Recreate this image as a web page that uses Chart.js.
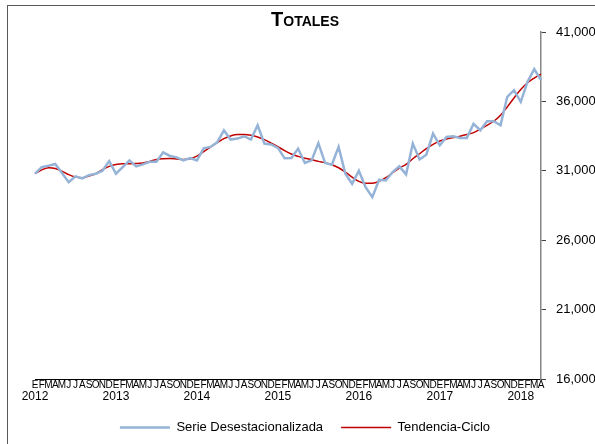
<!DOCTYPE html>
<html>
<head>
<meta charset="utf-8">
<script src="https://cdn.jsdelivr.net/npm/chart.js@4/dist/chart.umd.min.js"></script>
<style>
  body { margin: 0; background: #fff; }
  #wrap { position: relative; width: 595px; height: 444px; overflow: hidden; }
  #frame { position: absolute; left: 7px; top: 5px; width: 620px; height: 480px; border: 1px solid #595959; pointer-events: none; }
  canvas { position: absolute; left: 0; top: 0; }
</style>
</head>
<body>
<div id="wrap">
  <canvas id="chart" width="595" height="444"></canvas>
  <div id="frame"></div>
</div>
<script>
// Meses y años del eje horizontal
const monthLetters = ['E', 'F', 'M', 'A', 'M', 'J', 'J', 'A', 'S', 'O', 'N', 'D'];
const years = [2012, 2013, 2014, 2015, 2016, 2017, 2018];
const lastMonthCount = 4; // enero-abril 2018

// Serie desestacionalizada (ene 2012 - abr 2018)
const serieDesest = [
  30790, 31270, 31370, 31490, 30840, 30180, 30600, 30450, 30690, 30790, 31000, 31700,
  30790, 31270, 31750, 31320, 31460, 31650, 31650, 32330, 32070, 31970, 31750, 31920,
  31750, 32620, 32720, 33050, 33920, 33250, 33320, 33490, 33250, 34280, 32960, 32900,
  32650, 31900, 31920, 32600, 31560, 31750, 33000, 31560, 31440, 32720, 30790, 30070,
  31000, 29820, 29100, 30350, 30300, 30910, 31320, 30740, 32960, 31820, 32160, 33680,
  32840, 33440, 33490, 33370, 33370, 34380, 33920, 34570, 34570, 34280, 36330, 36810,
  35970, 37410, 38330, 37530
];

// Tendencia-ciclo
const tendencia = [
  30790, 31070, 31220, 31170, 30980, 30720, 30550, 30500, 30620, 30790, 31080, 31320,
  31460, 31510, 31510, 31520, 31560, 31680, 31820, 31870, 31880, 31850, 31820, 31870,
  32060, 32380, 32710, 33030, 33320, 33510, 33610, 33610, 33560, 33440, 33250, 33000,
  32740, 32450, 32210, 32040, 31900, 31800, 31680, 31590, 31440, 31220, 30910, 30550,
  30240, 30110, 30110, 30240, 30500, 30860, 31200, 31460, 31870, 32230, 32600, 32910,
  33150, 33290, 33390, 33490, 33610, 33750, 34000, 34280, 34570, 35000, 35600, 36250,
  36860, 37340, 37680, 37970
];

// Eje vertical
const yMin = 16000;
const yMax = 41000;
const yStep = 5000;

// Construir categorias: [letra del mes, año]
const labels = [];
years.forEach((y, yi) => {
  const n = yi === years.length - 1 ? lastMonthCount : 12;
  for (let m = 0; m < n; m++) labels.push([monthLetters[m], m === 0 ? String(y) : '']);
});

const FONT = "'Liberation Sans', Arial, sans-serif";

new Chart(document.getElementById('chart').getContext('2d'), {
  type: 'line',
  data: {
    labels: labels,
    datasets: [{
      label: 'Serie Desestacionalizada',
      data: serieDesest,
      borderColor: '#95B3D7',
      backgroundColor: '#95B3D7',
      borderWidth: 2.5,
      pointRadius: 0,
      tension: 0,
      xAxisID: 'x',
      yAxisID: 'y'
    }, {
      label: 'Tendencia-Ciclo',
      data: tendencia,
      borderColor: '#C00000',
      backgroundColor: '#C00000',
      borderWidth: 1.5,
      pointRadius: 0,
      cubicInterpolationMode: 'monotone',
      xAxisID: 'x',
      yAxisID: 'y'
    }]
  },
  options: {
    responsive: false,
    animation: false,
    devicePixelRatio: 1,
    layout: { padding: { left: 15, right: 0, top: 0, bottom: 0 } },
    plugins: {
      title: {
        display: true,
        text: 'Totales',
        color: '#000',
        font: { family: FONT, size: 20, weight: 'small-caps bold' },
        padding: { top: 8, bottom: 0 }
      },
      legend: {
        position: 'bottom',
        labels: {
          color: '#000',
          font: { family: FONT, size: 13 },
          usePointStyle: true,
          pointStyle: 'line',
          pointStyleWidth: 50,
          padding: 18
        }
      },
      tooltip: { enabled: false }
    },
    scales: {
      x: {
        type: 'category',
        position: 'bottom',
        offset: false,
        grid: { display: false, drawTicks: false },
        border: { display: true, color: '#000', width: 1 },
        ticks: {
          autoSkip: false,
          maxRotation: 0,
          minRotation: 0,
          padding: 1,
          color: '#000',
          font: { family: FONT, size: 10, lineHeight: 1 },
          callback: function(value, index) { return labels[index][0]; }
        }
      },
      x2: {
        type: 'category',
        position: 'bottom',
        offset: false,
        grid: { display: false, drawTicks: false },
        border: { display: false },
        ticks: {
          autoSkip: false,
          maxRotation: 0,
          minRotation: 0,
          padding: 0,
          color: '#000',
          font: { family: FONT, size: 12, lineHeight: 1 },
          callback: function(value, index) { return labels[index][1]; }
        }
      },
      y: {
        position: 'right',
        min: yMin,
        max: yMax,
        grid: { drawOnChartArea: false, tickLength: 5, color: '#404040' },
        border: { display: true, color: '#868686', width: 1.5 },
        ticks: {
          stepSize: yStep,
          padding: 10,
          color: '#000',
          font: { family: FONT, size: 13 },
          callback: function(v) { return v.toLocaleString('en-US'); }
        },
        afterFit: function(s) { s.width = 54; }
      },
      yl: {
        position: 'left',
        display: true,
        grid: { display: false, drawTicks: false },
        border: { display: false },
        ticks: { display: false },
        afterFit: function(s) { s.width = 20; }
      }
    }
  }
});
</script>
</body>
</html>
